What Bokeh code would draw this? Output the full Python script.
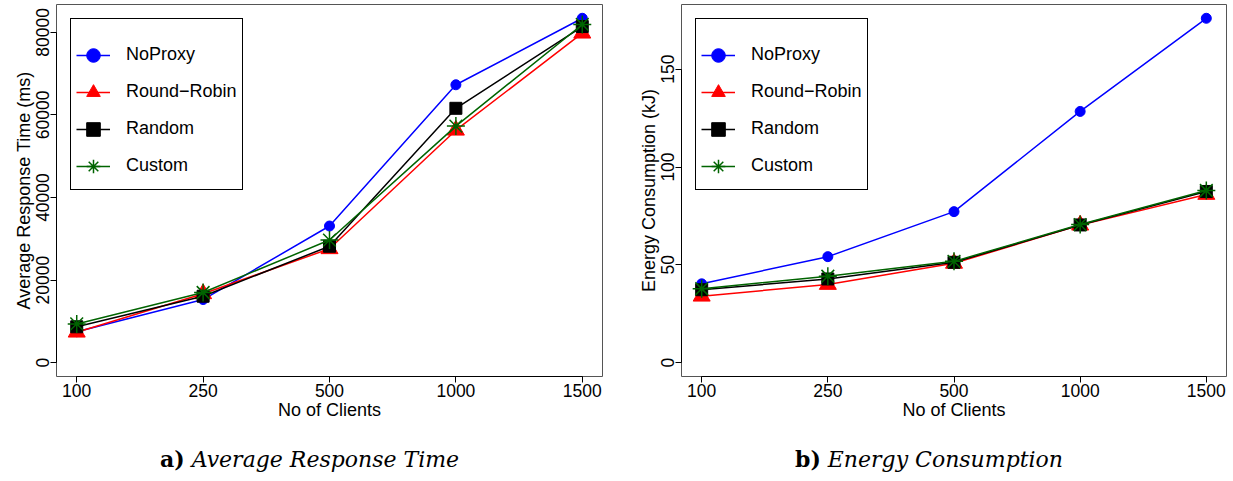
from bokeh.plotting import figure
from bokeh.layouts import row, column
from bokeh.models import Range1d, FixedTicker, Legend, LegendItem, Div, NumeralTickFormatter
from bokeh.embed import file_html
from bokeh.resources import INLINE

# ---- data ----
clients = ["100", "250", "500", "1000", "1500"]
series_names = ["NoProxy", "Round\u2212Robin", "Random", "Custom"]

noproxy_rt = [7500, 15300, 33100, 67300, 83400]
rr_rt = [7400, 16700, 27600, 56300, 79800]
random_rt = [8700, 16100, 28200, 61600, 81400]
custom_rt = [9400, 17000, 29700, 57300, 81900]
rt_ticks = [0, 20000, 40000, 60000, 80000]

noproxy_e = [40.3, 54.2, 77.2, 128.4, 176.0]
rr_e = [34.0, 40.0, 50.8, 70.3, 86.0]
random_e = [37.3, 42.8, 51.3, 70.4, 87.5]
custom_e = [37.8, 44.2, 51.8, 70.6, 88.0]
e_ticks = [0, 50, 100, 150]

captions = [("a)", "Average Response Time"), ("b)", "Energy Consumption")]

# ---- styles ----
colors = ["#0000FF", "#FF0000", "#000000", "#006400"]
markers = ["circle", "triangle", "square", "asterisk"]
msizes = [10, 17, 12, 18]
SANS = "Liberation Sans"
SERIF = "DejaVu Serif"
FIG_H = 430


def make_panel(series, yticks, ylabel, width, left_border, right_border):
    xs = list(range(len(clients)))
    ymax = max(max(s) for s in series)
    p = figure(width=width, height=FIG_H, output_backend="svg", toolbar_location=None,
               x_range=Range1d(-0.16, len(clients) - 1 + 0.16),
               y_range=Range1d(-0.04 * ymax, 1.04 * ymax),
               min_border_left=left_border, min_border_right=right_border,
               min_border_top=4, min_border_bottom=FIG_H - 376)
    p.grid.visible = False
    p.outline_line_color = "#555555"
    p.outline_line_width = 1
    p.background_fill_color = "white"
    p.border_fill_color = "white"

    items = []
    for s, name, c, m, ms in zip(series, series_names, colors, markers, msizes):
        ln = p.line(xs, s, line_color=c, line_width=1.5)
        if m == "asterisk":
            sc = p.scatter(xs, s, marker=m, size=ms, line_color=c, line_width=1.5)
        else:
            sc = p.scatter(xs, s, marker=m, size=ms, fill_color=c, line_color=c)
        items.append(LegendItem(label=name, renderers=[ln, sc]))

    leg = Legend(items=items, location="top_left", margin=14, padding=5,
                 glyph_width=34, glyph_height=36, label_height=37, spacing=0,
                 label_standoff=16, label_text_font=SANS, label_text_font_size="18px",
                 label_text_color="black",
                 border_line_color="black", border_line_width=1, border_line_alpha=1,
                 title=" ", title_text_font_size="8px", title_standoff=3)
    p.add_layout(leg)

    xa = p.xaxis[0]
    xa.ticker = FixedTicker(ticks=xs)
    xa.major_label_overrides = {i: c for i, c in enumerate(clients)}
    xa.bounds = (0, len(clients) - 1)
    xa.axis_label = "No of Clients"

    ya = p.yaxis[0]
    ya.ticker = FixedTicker(ticks=yticks)
    ya.formatter = NumeralTickFormatter(format="0")
    ya.bounds = (yticks[0], yticks[-1])
    ya.axis_label = ylabel
    ya.major_label_orientation = "vertical"

    for ax in (xa, ya):
        ax.axis_line_color = "black"
        ax.axis_line_width = 1
        ax.major_tick_in = 0
        ax.major_tick_out = 6
        ax.major_tick_line_color = "black"
        ax.minor_tick_line_color = None
        ax.major_label_text_font = SANS
        ax.major_label_text_font_size = "17.5px"
        ax.major_label_text_color = "black"
        ax.major_label_standoff = 1
        ax.axis_label_text_font = SANS
        ax.axis_label_text_font_size = "18px"
        ax.axis_label_text_font_style = "normal"
        ax.axis_label_text_color = "black"
        ax.axis_label_standoff = 0
    return p


def make_caption(letter, text, width, pad_left):
    html = ('<div style="padding-left:%dpx;padding-top:17px;font-family:\'%s\';'
            'font-size:22px;line-height:25px;white-space:nowrap;color:black;">'
            '<b>%s</b> <i>%s</i></div>') % (pad_left, SERIF, letter, text)
    return Div(text=html, width=width, height=481 - FIG_H, margin=(0, 0, 0, 0))


p1 = make_panel([noproxy_rt, rr_rt, random_rt, custom_rt], rt_ticks,
                "Average Response Time (ms)", 620, 56, 18)
p2 = make_panel([noproxy_e, rr_e, random_e, custom_e], e_ticks,
                "Energy Consumption (kJ)", 613, 61, 7)

c1 = make_caption(captions[0][0], captions[0][1], 620, 160)
c2 = make_caption(captions[1][0], captions[1][1], 613, 175)

layout = column(row(p1, p2), row(c1, c2))
open("out.html", "w").write(file_html(layout, INLINE))
